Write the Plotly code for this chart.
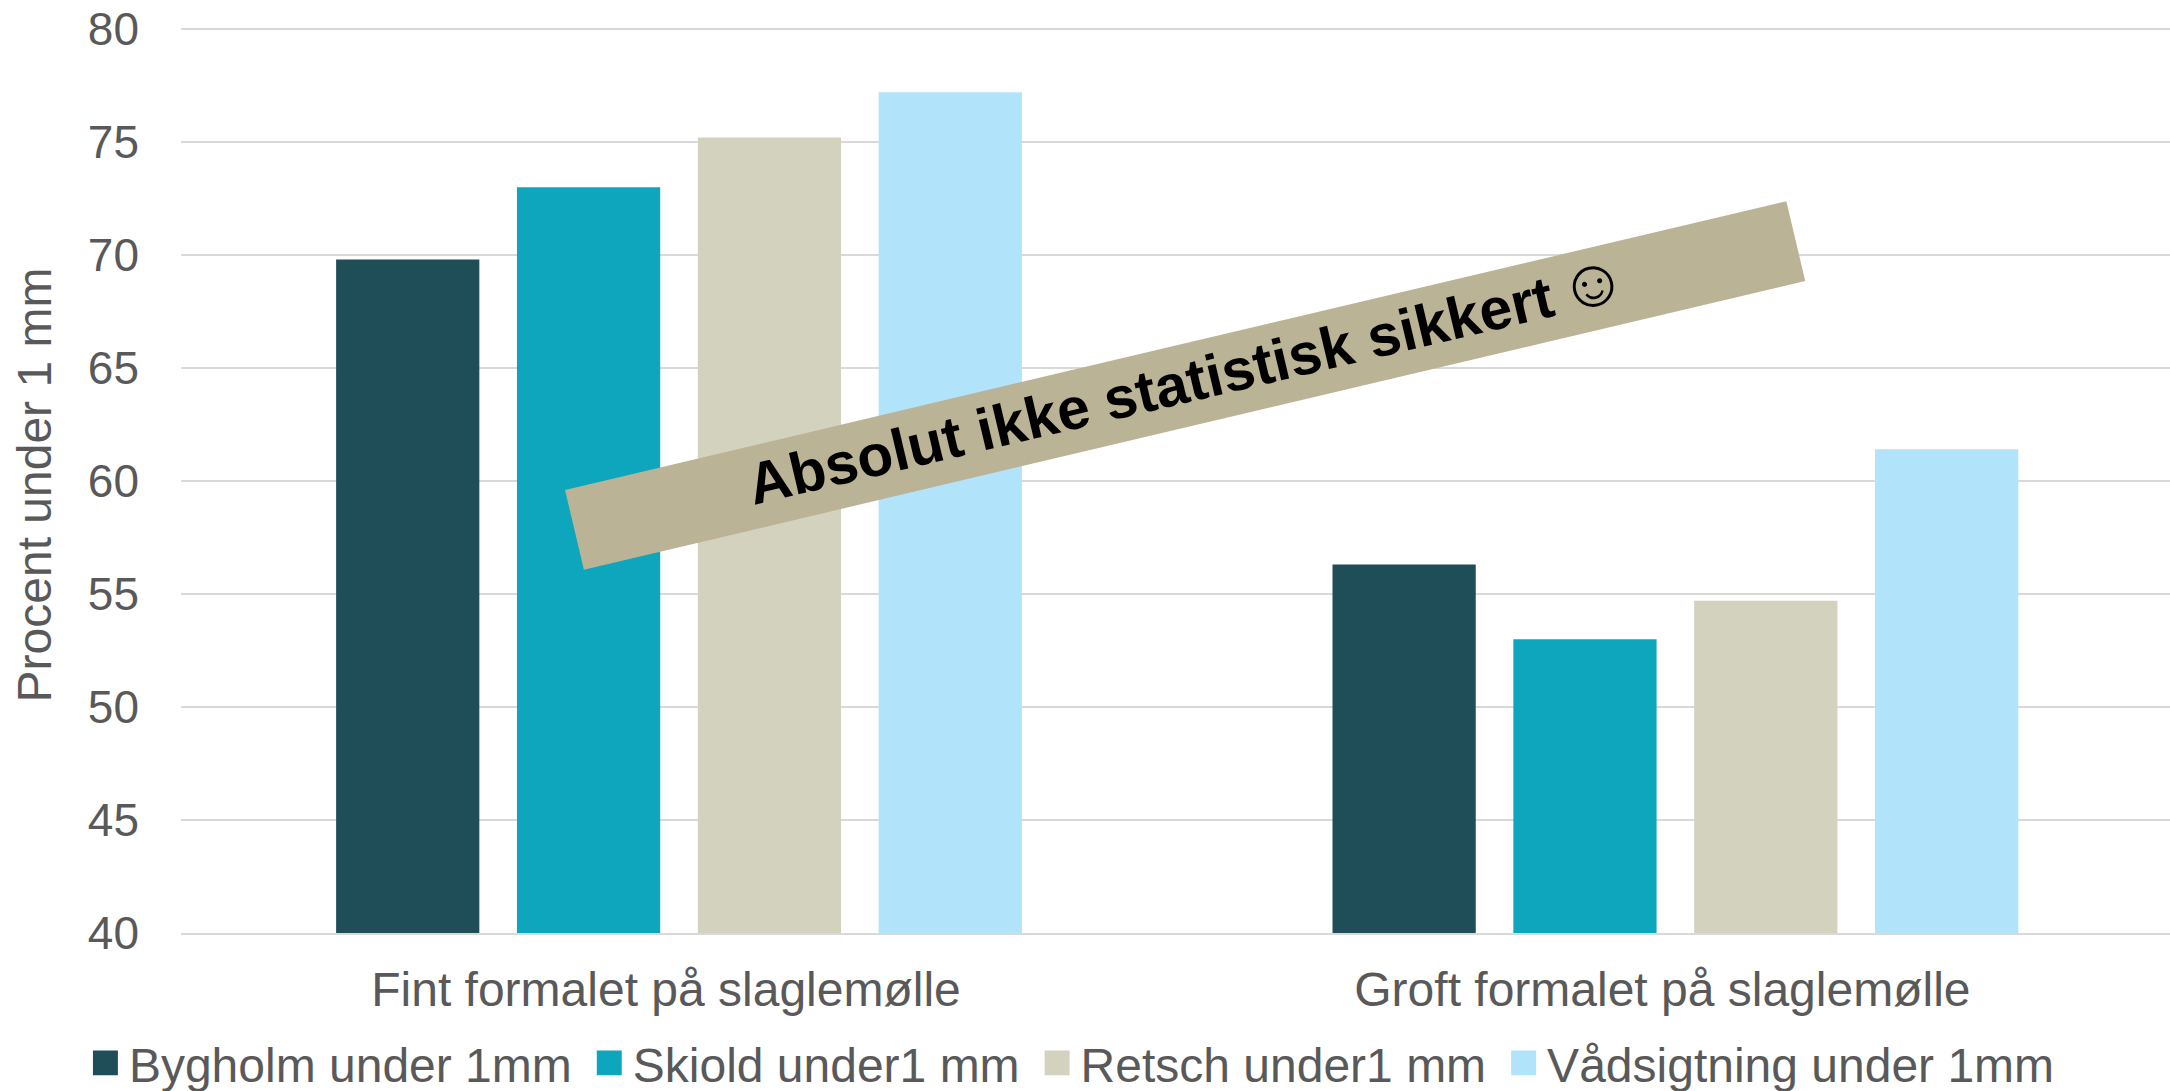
import plotly.graph_objects as go

categories = ["Fint formalet på slaglemølle", "Groft formalet på slaglemølle"]
series_names = ["Bygholm under 1mm", "Skiold under1 mm", "Retsch under1 mm", "Vådsigtning under 1mm"]
bygholm = [69.8, 56.3]
skiold = [73.0, 53.0]
retsch = [75.2, 54.7]
vaadsigtning = [77.2, 61.4]
colors = ["#1F4E59", "#0DA6BC", "#D3D2BF", "#B1E3FA"]
y_ticks = [40, 45, 50, 55, 60, 65, 70, 75, 80]
banner_text = "Absolut ikke statistisk sikkert<span style='font-size:26px'> </span><span style='font-size:68px'>☺</span>"

GREY = "#595959"
GRID = "#D9D9D9"
BANNER_X = (1185 - 181) / 1989
BANNER_Y = (933 - 385) / 906
fig = go.Figure()
for name, vals, col in zip(series_names, [bygholm, skiold, retsch, vaadsigtning], colors):
    fig.add_bar(x=categories, y=vals, name=name, marker=dict(color=col, line=dict(width=0)))

fig.update_layout(
    width=2170, height=1091,
    autosize=False,
    margin=dict(l=181, r=0, t=27, b=158, pad=0),
    paper_bgcolor="white", plot_bgcolor="white",
    barmode="group", bargap=0.274, bargroupgap=0.208,
    font=dict(family="Liberation Sans, Arial, sans-serif", color=GREY, size=46),
    legend=dict(orientation="h", xref="container", yref="container",
                x=0.0336, xanchor="left", y=0.0255, yanchor="middle",
                font=dict(size=48, color=GREY), bgcolor="rgba(0,0,0,0)", itemwidth=46,
                itemclick=False, itemdoubleclick=False, tracegroupgap=0),
    annotations=[
        dict(text=" ", textangle=-13.3, xref="paper", yref="paper", x=BANNER_X, y=BANNER_Y,
             xanchor="center", yanchor="middle", showarrow=False, width=1252, height=79,
             bgcolor="#BAB395", font=dict(size=20)),
        dict(text=banner_text, textangle=-13.3, xref="paper", yref="paper", x=BANNER_X, y=BANNER_Y,
             xanchor="center", yanchor="middle", showarrow=False, xshift=2, yshift=7,
             font=dict(size=58.7, color="black", family="Liberation Sans, DejaVu Sans, sans-serif", weight="bold")),
    ],
)
fig.update_xaxes(range=[-0.4998, 1.4964], showgrid=False, showline=True, linecolor=GRID, linewidth=2, ticks="",
                 tickfont=dict(size=48, color=GREY), ticklabelstandoff=13, ticklabelshift=-13)
fig.update_yaxes(range=[40, 80.088], tickvals=y_ticks, showgrid=True, gridcolor=GRID, gridwidth=2,
                 zeroline=False, showline=False, ticks="", tickfont=dict(size=46, color=GREY), ticklabelstandoff=41,
                 title=dict(text="Procent under 1 mm", font=dict(size=48, color=GREY), standoff=21))

post = """
document.body.style.margin='0';
document.documentElement.style.overflow='hidden';
document.querySelectorAll('.legend .traces .legendpoints path').forEach(function(p){
  p.setAttribute('transform','translate(32.5,0) scale(2.08)');
});
var yt=document.querySelector('.g-ytitle');
if(yt){yt.setAttribute('transform','translate(0,5)');}
"""
fig.write_html("out.html", post_script=post, config=dict(displayModeBar=False))
